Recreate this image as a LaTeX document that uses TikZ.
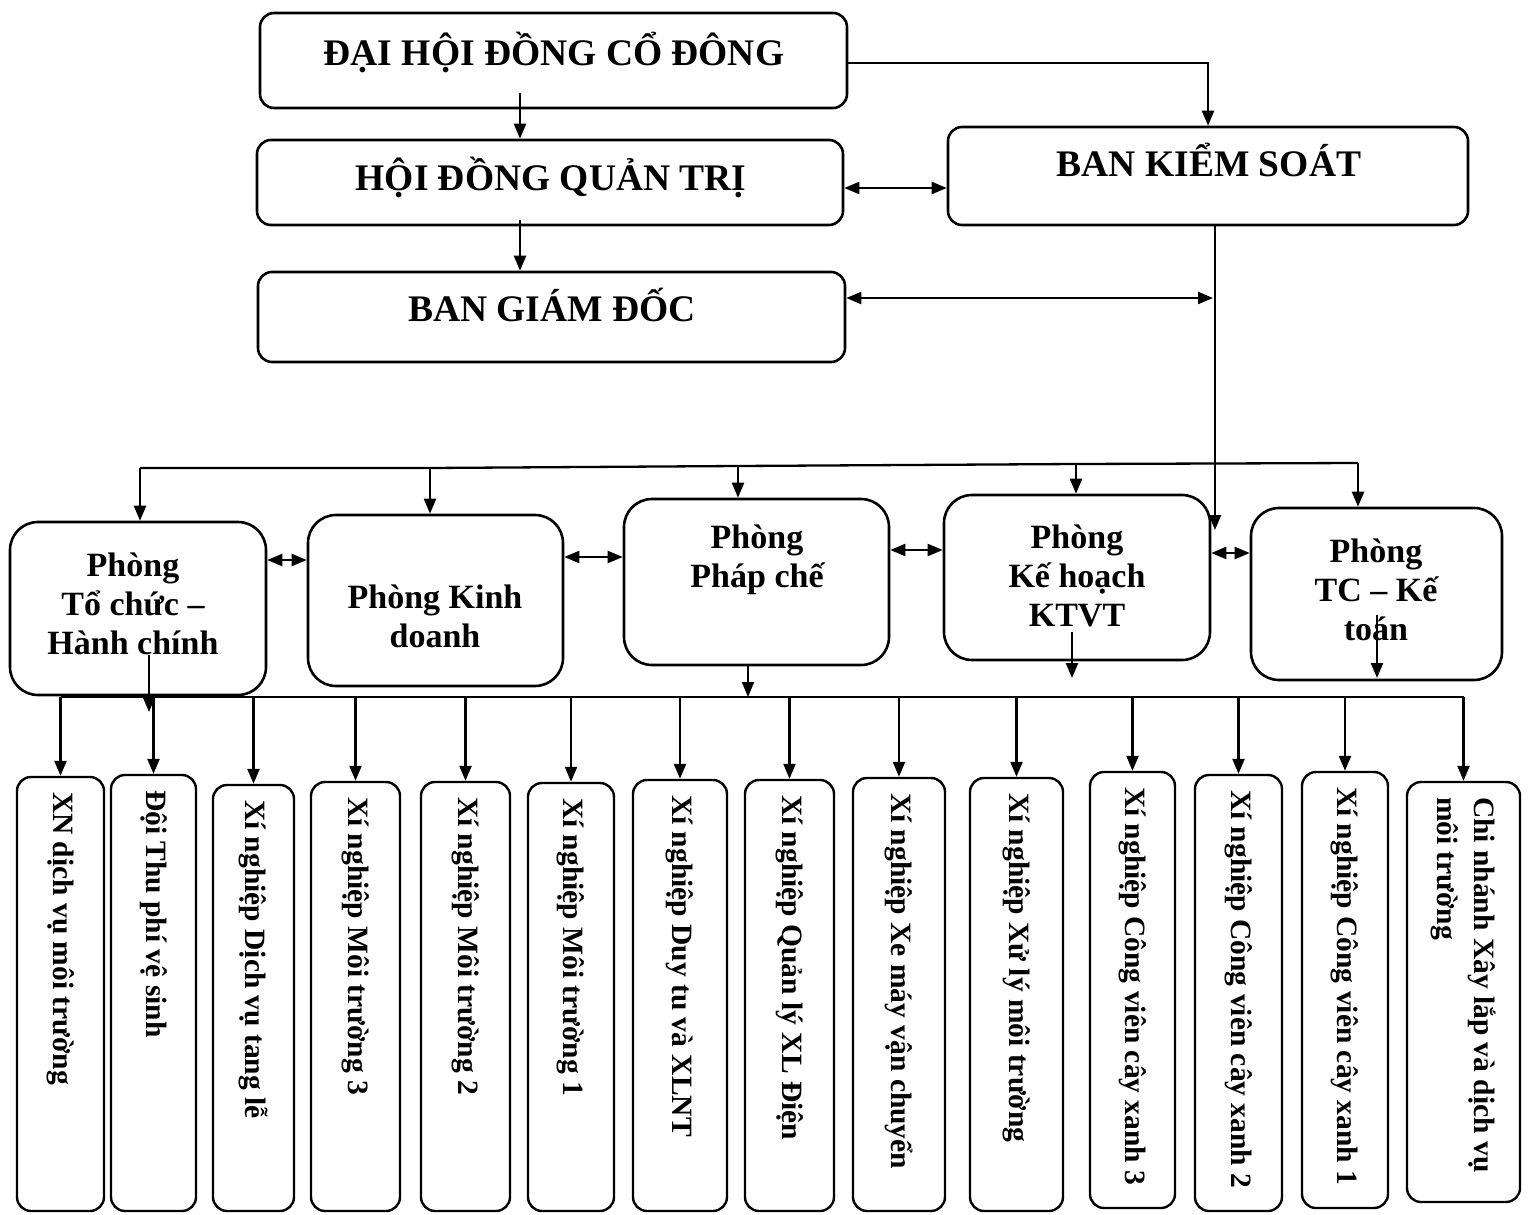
\documentclass[tikz,border=0pt]{standalone}
\usepackage{fontspec}
\setmainfont{Liberation Serif}
\usetikzlibrary{arrows.meta,calc}
\begin{document}
\begin{tikzpicture}[x=1pt,y=-1pt,
  >={Triangle[length=15pt,width=12pt]},
  conn/.style={line width=2.3pt},
  topbox/.style={draw,line width=2.6pt,rounded corners=14pt,inner sep=0pt},
  depbox/.style={draw,line width=2.6pt,rounded corners=28pt,inner sep=0pt},
  unitbox/.style={draw,line width=2.4pt,rounded corners=14pt,inner sep=0pt},
  toptext/.style={font=\fontsize{37.5}{40}\selectfont\bfseries,inner sep=0pt},
  deptext/.style={font=\fontsize{34}{39}\selectfont\bfseries,align=center,inner sep=0pt},
  unittext/.style={font=\fontsize{29.5}{37}\selectfont\bfseries,align=left,inner sep=0pt,rotate=-90,anchor=west},
]
\useasboundingbox (0,0) rectangle (1529,1215);

% top level
\node[topbox,minimum width=587pt,minimum height=95pt] (dh) at (553.5,60.5) {};
\node[toptext] (dht) at (554,52) {ĐẠI HỘI ĐỒNG CỔ ĐÔNG};
\node[topbox,minimum width=586pt,minimum height=85pt] (hd) at (550,182.5) {};
\node[toptext] (hdt) at (551,177) {HỘI ĐỒNG QUẢN TRỊ};
\node[topbox,minimum width=587pt,minimum height=90pt] (bg) at (551.5,317) {};
\node[toptext] (bgt) at (552,305) {BAN GIÁM ĐỐC};
\node[topbox,minimum width=520pt,minimum height=98pt] (bk) at (1208,176) {};
\node[toptext] (bkt) at (1209,160) {BAN KIỂM SOÁT};

% top connectors
\coordinate (vx) at (520,0);
\draw[conn,->] (vx |- 0,93) -- (vx |- hd.north);
\draw[conn,->] (vx |- 0,220) -- (vx |- bg.north);
\coordinate (kd) at (1208,63);
\draw[conn,->] (kd -| dh.east) -- (kd) -- (bk.north);
\coordinate (kh) at (0,188);
\draw[conn,<->] (kh -| hd.east) -- (kh -| bk.west);
\coordinate (kg) at (1213,298);
\draw[conn,<->] (kg -| bg.east) -- (kg);
\coordinate (kv) at (1215,530);
\draw[conn,->] (bk.south -| kv) -- (kv);

% departments
\node[depbox,minimum width=256pt,minimum height=173pt] (p1) at (138,608.5) {};
\node[deptext] (p1t) at (133,604) {Phòng\\Tổ chức –\\Hành chính};
\node[depbox,minimum width=255pt,minimum height=171pt] (p2) at (435.5,600.5) {};
\node[deptext] (p2t) at (435,616) {Phòng Kinh\\doanh};
\node[depbox,minimum width=265pt,minimum height=166pt] (p3) at (756.5,582) {};
\node[deptext] (p3t) at (757,560) {Phòng\\Pháp chế};
\node[depbox,minimum width=266pt,minimum height=165pt] (p4) at (1077,577.5) {};
\node[deptext] (p4t) at (1077,576) {Phòng\\Kế hoạch\\KTVT};
\node[depbox,minimum width=251pt,minimum height=172pt] (p5) at (1376.5,594) {};
\node[deptext] (p5t) at (1376,590) {Phòng\\TC – Kế\\toán};

% top bus to departments
\coordinate (d1) at (140,468);
\coordinate (d2) at (430,468);
\coordinate (d3) at (738,466);
\coordinate (d4) at (1076,464);
\coordinate (d5) at (1358,463);
\draw[conn] (d1) -- (d2) -- (d3) -- (d4) -- (d5);
\draw[conn,->] (d1) -- (d1 |- p1.north);
\draw[conn,->] (d2) -- (d2 |- p2.north);
\draw[conn,->] (d3) -- (d3 |- p3.north);
\draw[conn,->] (d4) -- (d4 |- p4.north);
\draw[conn,->] (d5) -- (d5 |- p5.north);

% between departments
\coordinate (h12) at (0,560);
\coordinate (h23) at (0,557);
\coordinate (h34) at (0,550);
\coordinate (h45) at (0,553);
\draw[conn,<->] (h12 -| p1.east) -- (h12 -| p2.west);
\draw[conn,<->] (h23 -| p2.east) -- (h23 -| p3.west);
\draw[conn,<->] (h34 -| p3.east) -- (h34 -| p4.west);
\draw[conn,<->] (h45 -| p4.east) -- (h45 -| p5.west);

% departments down
\coordinate (bb) at (0,697);
\coordinate (c3) at (748,697);
\draw[conn,->] (c3 |- p3.south) -- (c3);
\coordinate (c4a) at (1072,632);
\coordinate (c4b) at (1072,678);
\draw[conn,->] (c4a) -- (c4b);
\coordinate (c5a) at (1377,615);
\coordinate (c5b) at (1377,678);
\draw[conn,->] (c5a) -- (c5b);
\coordinate (c1a) at (149,655);
\coordinate (c1b) at (149,712);
\draw[conn,->] (c1a) -- (c1b);

% units
\foreach \i/\xa/\xb/\yt/\yb/\txt in {
  1/17/104/777/1211/{XN dịch vụ môi trường},
  2/111/196/775/1211/{Đội Thu phí vệ sinh},
  3/213/294/785/1211/{Xí nghiệp Dịch vụ tang lễ},
  4/311/400/782/1211/{Xí nghiệp Môi trường 3},
  5/421/510/782/1211/{Xí nghiệp Môi trường 2},
  6/528/614/783/1211/{Xí nghiệp Môi trường 1},
  7/633/727/780/1211/{Xí nghiệp Duy tu và XLNT},
  8/745/834/780/1211/{Xí nghiệp Quản lý XL Điện},
  9/853/945/778/1211/{Xí nghiệp Xe máy vận chuyển},
  10/970/1063/778/1211/{Xí nghiệp Xử lý môi trường},
  11/1090/1175/772/1208/{Xí nghiệp Công viên cây xanh 3},
  12/1195/1282/775/1211/{Xí nghiệp Công viên cây xanh 2},
  13/1302/1388/772/1208/{Xí nghiệp Công viên cây xanh 1},
  14/1407/1520/782/1202/{Chi nhánh Xây lắp và dịch vụ\\môi trường}}
{
  \node[unitbox,minimum width={(\xb-\xa)*1pt},minimum height={(\yb-\yt)*1pt}] (u\i) at ({(\xa+\xb)/2},{(\yt+\yb)/2}) {};
  \node[unittext] (ut\i) at ($(u\i.north)+(0,16)$) {\txt};
  \draw[conn,->] (u\i.north |- bb) -- (u\i.north);
}
\draw[conn] (u1.north |- bb) -- (u14.north |- bb);
\end{tikzpicture}
\end{document}
